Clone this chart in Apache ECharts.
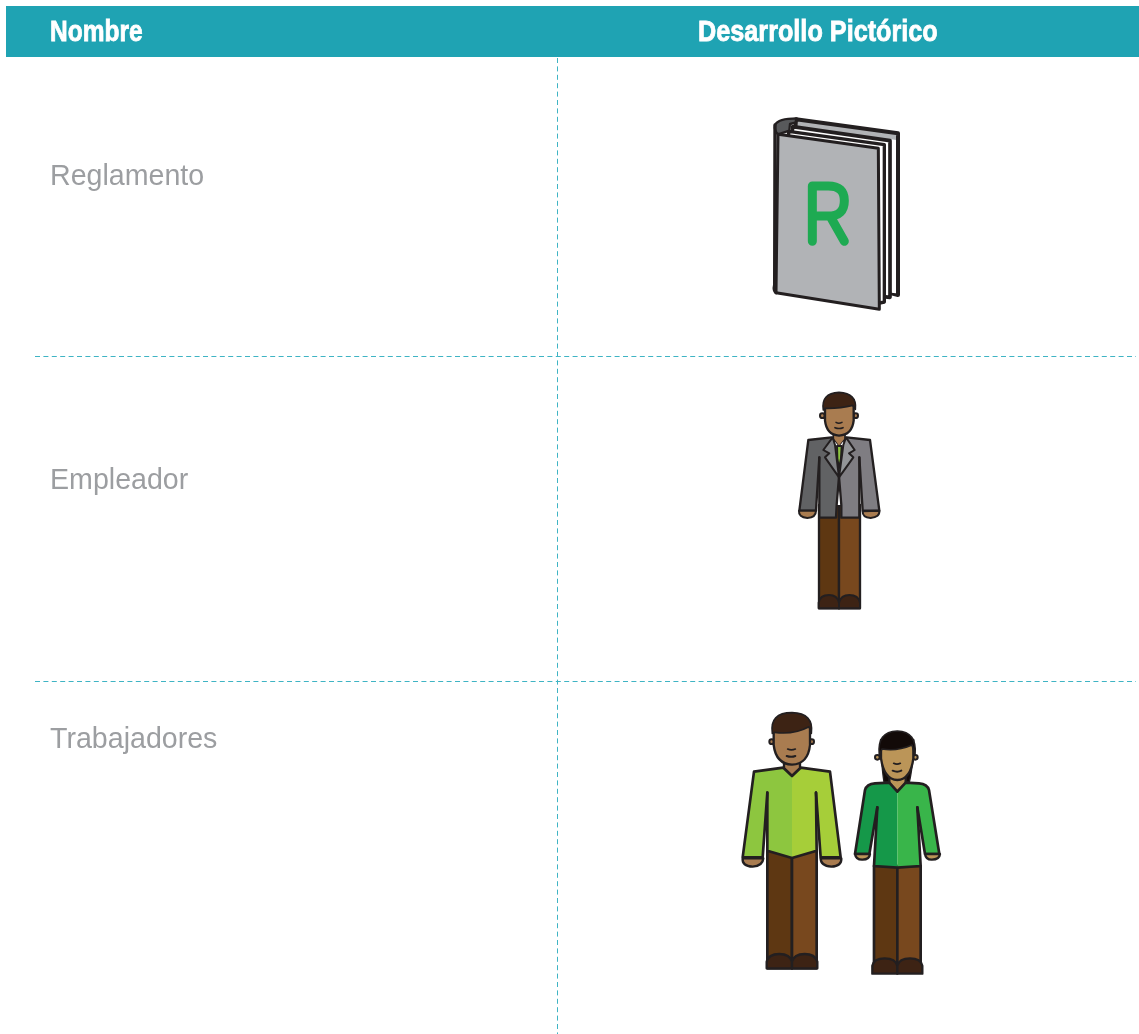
<!DOCTYPE html>
<html><head><meta charset="utf-8">
<style>html,body{margin:0;padding:0;background:#fff}#c{width:1139px;height:1034px}</style>
<script src="https://cdn.jsdelivr.net/npm/echarts@6/dist/echarts.min.js"></script>
</head><body><div id="c"></div>
<script>
const headers = ['Nombre', 'Desarrollo Pictórico'];
const rowNames = ['Reglamento', 'Empleador', 'Trabajadores'];

const INK='#231f20', TEAL='#1fa3b3', DASH='#3fb4c4', LABEL='#9c9ea1';
const HAIR='#3d2314', SKIN='#a97c50', SKIN2='#bb9558', PL='#5e3712', PR='#78481e';
const p=(d,fill,lw,stroke)=>({type:'path',shape:{pathData:d},style:{fill:fill||'none',stroke:lw?(stroke||INK):'none',lineWidth:lw||0,lineJoin:'round',lineCap:'round'}});
const ear=(cx,cy,r,fill)=>({type:'circle',shape:{cx,cy,r},style:{fill,stroke:INK,lineWidth:6}});

const book=[
 p('M138,58 L444,100 L444,585 L424,580 L120,300 Z','#b1b3b6',12),
 p('M424,118 L438,120 L438,580 L424,578 Z','#ffffff',0),
 p('M128,80 L420,122 L420,592 L400,590 L110,300 Z','#ffffff',11),
 p('M116,94 L403,134 L403,606 L385,610 L110,300 Z','#ffffff',10),
 p('M84,103 Q72,92 75,75 Q85,55 140,55 L136,68 L120,72 L118,92 Z','#58595b',7),
 p('M84,103 L385,145 L388,628 L78,578 Z','#b1b3b6',9),
 p('M75,75 L74,555 Q70,572 78,578','none',10),
 p('M187,424 L187,258 L235,258 Q283,258 283,302 Q283,348 235,348 L187,348 M240,348 L283,424','none',27,'#1eaa52')
];

const employer=[
 ear(127,107,7,SKIN), ear(227,107,7,SKIN),
 p('M117,375 H177 V685 H117 Z',PL,7),
 p('M177,375 H240 V685 H177 Z',PR,7),
 p('M116,685 L116,668 Q120,645 147,645 Q172,645 177,668 L177,685 Z',HAIR,6),
 p('M177,685 L177,668 Q183,645 208,645 Q235,645 240,668 L240,685 Z',HAIR,6),
 p('M160,150 H195 V178 L177,200 L160,178 Z',SKIN,5),
 p('M135,60 L135,122 Q140,165 177,167 Q216,165 221,122 L221,60 Z',SKIN,7),
 p('M130,90 Q122,40 177,37 Q232,40 226,88 L218,76 Q180,86 135,85 Z',HAIR,5),
 p('M168,127 Q176,132 186,127','none',4.5),
 p('M165,143 Q177,148 189,143','none',5),
 p('M164,184 L177,200 L190,184 L192,300 L165,300 Z','#ffffff',0),
 p('M170,292 H184 V375 H170 Z','#ffffff',0),
 p('M85,180 L155,172 L165,195 L177,290 L170,375 L168,413 H118 L118,232 L108,392 L58,392 Z','#616264',0),
 p('M270,180 L200,172 L190,195 L177,290 L184,375 L184,413 H238 L238,232 L248,392 L298,392 Z','#7f7d82',0),
 p('M118,232 V413 H168 L170,375 L177,290','none',7),
 p('M238,232 V413 H184 V375 L177,290','none',7),
 p('M118,232 L108,392 L58,392 L85,180 L155,172','none',7),
 p('M238,232 L248,392 L298,392 L270,180 L200,172','none',7),
 p('M171,198 H185 L183,235 L177,265 L172,235 Z','#8dc63f',6),
 p('M158,172 L130,210 L148,220 L135,232 L177,292 L165,195 Z','#808285',6),
 p('M198,172 L224,210 L207,220 L220,232 L177,292 L190,195 Z','#939598',6),
 p('M57,392 Q55,412 82,414 Q108,412 108,392 Z',SKIN,6),
 p('M248,394 Q247,412 272,414 Q300,412 298,392 Z',SKIN,6)
];

const workers=[
 ear(125,125,7,SKIN), ear(245,125,7,SKIN),
 p('M112,450 H186 V805 H112 Z',PL,8),
 p('M186,450 H260 V805 H186 Z',PR,8),
 p('M110,805 L110,785 Q115,762 148,762 Q180,762 186,785 L186,805 Z',HAIR,7),
 p('M186,805 L186,785 Q192,762 224,762 Q255,762 262,785 L262,805 Z',HAIR,7),
 p('M162,170 H210 V205 L186,228 L162,205 Z',SKIN,7),
 p('M131,70 L131,135 Q138,192 186,194 Q234,192 240,135 L240,70 Z',SKIN,7),
 p('M127,100 Q118,38 186,38 Q252,40 244,100 L237,80 Q190,105 134,97 Z',HAIR,5),
 p('M173,147 Q184,152 196,147','none',5),
 p('M170,168 Q184,173 196,168','none',6),
 p('M72,215 L160,203 L186,228 V474 L112,452 L112,278 L98,472 L38,472 Z','#8dc63f',0),
 p('M300,215 L212,203 L186,228 V474 L260,452 L258,278 L272,472 L332,472 Z','#a6ce39',0),
 p('M112,278 L98,472 L38,472 L72,215 L160,203 L186,228 L212,203 L300,215 L332,472 L272,472 L258,278','none',8),
 p('M112,278 L112,452 L186,474 L260,452 L258,278','none',8),
 p('M38,475 Q35,498 68,500 Q98,498 100,475 Z',SKIN,7),
 p('M272,475 Q272,498 304,500 Q336,498 334,475 Z',SKIN,7),

 p('M452,150 Q458,225 462,246 H538 Q544,225 552,150 Z','#120a08',4),
 ear(442,172,7,SKIN2), ear(556,172,7,SKIN2),
 p('M432,498 H502 V790 H432 Z',PL,8),
 p('M502,498 H572 V790 H502 Z',PR,8),
 p('M427,821 L427,797 Q432,775 464,775 Q496,775 502,797 L502,821 Z',HAIR,7),
 p('M502,821 L502,797 Q508,775 540,775 Q572,775 577,797 V821 Z',HAIR,7),
 p('M478,215 H527 V250 L502,275 L478,250 Z',SKIN2,7),
 p('M453,120 L453,175 Q462,238 502,240 Q542,238 550,175 L550,120 Z',SKIN2,7),
 p('M448,165 Q440,95 502,93 Q562,95 555,165 L546,135 Q500,155 456,147 Z','#120a08',5),
 p('M491,190 Q501,195 511,190','none',5),
 p('M488,212 Q502,218 514,212','none',6),
 p('M405,270 Q410,252 435,250 L478,248 L502,275 V503 L432,498 L442,322 L418,462 L375,462 Z','#159849',0),
 p('M597,270 Q592,252 567,250 L527,248 L502,275 V503 L572,498 L562,322 L585,462 L628,462 Z','#39b54a',0),
 p('M442,322 L418,462 L375,462 L405,270 Q410,252 435,250 L478,248 L502,275 L527,248 L567,250 Q592,252 597,270 L628,462 L585,462 L562,322','none',8),
 p('M442,322 L432,498 L502,503 L572,498 L562,322','none',8),
 p('M375,462 Q378,480 398,479 Q418,479 420,462 Z',SKIN2,7),
 p('M585,462 Q588,480 606,479 Q628,479 630,462 Z',SKIN2,7)
];

const pictos=[
 {x:750,y:100,children:book},
 {x:780,y:380,children:employer},
 {x:730,y:700,children:workers}
];

const dashed=(x1,y1,x2,y2)=>({type:'line',shape:{x1,y1,x2,y2},silent:true,
  style:{stroke:DASH,lineWidth:1,lineDash:[5,3.4]}});
const label=(t,x,y)=>({type:'text',x,y:y-22,silent:true,style:{text:t,fill:LABEL,
  font:'28.6px "Liberation Sans", Arial, sans-serif'}});
const head=(t,x,sx)=>({type:'text',x,y:41-23,scaleX:sx,silent:true,style:{text:t,fill:'#fff',
  stroke:'#fff',lineWidth:0.8,font:'bold 29px "Liberation Sans", sans-serif'}});

const chart=echarts.init(document.getElementById('c'),null,{renderer:'canvas'});
chart.setOption({
 animation:false,
 backgroundColor:'#fff',
 graphic:{elements:[
  {type:'rect',shape:{x:6,y:6,width:1133,height:51},style:{fill:TEAL},silent:true},
  head(headers[0],50,0.845), head(headers[1],698,0.87),
  dashed(35,356.5,1136,356.5), dashed(35,681.5,1136,681.5), dashed(557.5,58,557.5,1034),
  label(rowNames[0],50,185), label(rowNames[1],50,489), label(rowNames[2],50,748)
 ]},
 xAxis:{show:false},yAxis:{show:false},
 series:[{type:'custom',coordinateSystem:'none',silent:true,data:pictos.map((_,i)=>[i]),
  renderItem:(params)=>{const g=pictos[params.dataIndex];
   return {type:'group',x:g.x,y:g.y,scaleX:1/3,scaleY:1/3,children:g.children};}}]
});
</script></body></html>
